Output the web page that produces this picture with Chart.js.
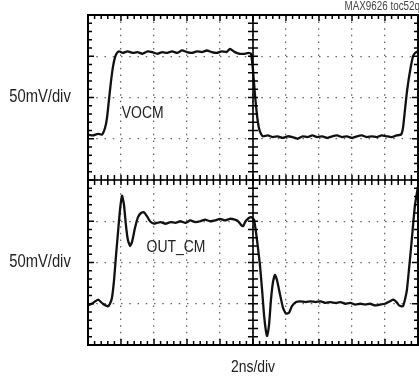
<!DOCTYPE html>
<html>
<head>
<meta charset="utf-8">
<script src="https://cdn.jsdelivr.net/npm/chart.js@4/dist/chart.umd.min.js"></script>
<style>
    html, body { margin: 0; padding: 0; background: #fff; }
    #wrap { position: relative; width: 419px; height: 381px; }
</style>
</head>
<body>
<div id="wrap"><canvas id="scope" width="419" height="381"></canvas></div>
<script>
// time axis: 2ns/div, 10 divisions
const timeRange = [0, 20];
const timeStep = 2;
// vertical: 50mV/div, 8 divisions
const mvRange = [-200, 200];
const mvStep = 50;

// VOCM trace (top half)
const vocmNs = [0, 0.3, 0.6, 0.85, 1.03, 1.15, 1.27, 1.39, 1.52, 1.64, 1.76, 1.88,
    2.1, 2.4, 2.7, 3.0, 3.3, 3.6, 3.9, 4.2, 4.5, 4.8, 5.1, 5.4, 5.7, 6.0, 6.3, 6.6, 6.9,
    7.2, 7.5, 7.8, 8.1, 8.4, 8.6, 8.9, 9.2, 9.5, 9.75, 9.88,
    10.0, 10.12, 10.24, 10.36, 10.48, 10.6,
    10.9, 11.2, 11.5, 11.8, 12.1, 12.4, 12.7, 13.0, 13.3, 13.6, 13.9, 14.2, 14.5, 14.8,
    15.1, 15.4, 15.7, 16.0, 16.3, 16.6, 16.9, 17.2, 17.5, 17.8, 18.1, 18.4, 18.7,
    18.97, 19.09, 19.21, 19.33, 19.45, 19.58, 19.7, 19.82, 20];
const vocmMv = [55, 54, 56, 55, 63, 75, 97, 119, 138, 149, 154, 156,
    154, 156, 154, 155, 153, 156, 155, 153, 155, 154, 156, 154, 157, 155, 154, 156, 155,
    157, 155, 154, 156, 155, 159, 155, 153, 153, 154, 153,
    133, 103, 79, 63, 56, 53,
    54, 52, 53, 51, 53, 52, 50, 53, 52, 54, 52, 53, 51, 53,
    54, 52, 53, 51, 53, 54, 52, 53, 52, 54, 53, 52, 54,
    55, 63, 85, 107, 124, 139, 150, 154, 156];

// OUT_CM trace (bottom half)
const outNs = [0, 0.3, 0.61, 0.9, 1.21, 1.33, 1.45, 1.58, 1.7, 1.82, 1.94, 2.06, 2.18,
    2.3, 2.42, 2.55, 2.67, 2.85, 3.03, 3.21, 3.39, 3.58, 3.76, 4.0, 4.18,
    4.4, 4.7, 5.0, 5.3, 5.6, 5.9, 6.2, 6.5, 6.8, 7.1, 7.4, 7.7, 8.0, 8.3, 8.6, 8.9,
    9.1, 9.3, 9.4, 9.55, 9.75, 9.9, 10.0,
    10.06, 10.18, 10.3, 10.42, 10.55, 10.67, 10.79, 10.85, 10.97, 11.09, 11.21, 11.33,
    11.45, 11.64, 11.82, 12.0, 12.18, 12.36, 12.61, 12.85,
    13.2, 13.5, 13.8, 14.1, 14.4, 14.7, 15.0, 15.3, 15.6, 15.9, 16.2, 16.5, 16.8, 17.1,
    17.4, 17.7, 18.0, 18.3, 18.5, 18.7, 18.85, 19.09,
    19.21, 19.33, 19.45, 19.58, 19.7, 19.82, 20];
const outMv = [-152, -149, -145, -150, -153, -150, -143, -121, -91, -63, -36, -19, -30,
    -55, -73, -80, -75, -58, -45, -40, -39, -44, -50, -53, -52,
    -51, -53, -51, -52, -50, -52, -49, -51, -50, -48, -50, -49, -47, -49, -47, -48,
    -50, -55, -56, -50, -46, -45, -47,
    -48, -63, -82, -103, -133, -164, -184, -189, -176, -145, -124, -115,
    -121, -139, -155, -162, -161, -153, -148, -147,
    -148, -147, -148, -147, -149, -148, -149, -148, -150, -149, -151, -150, -151, -150,
    -152, -151, -150, -147, -145, -148, -152, -153,
    -145, -133, -109, -82, -55, -30, -8];

// labels placed in data coordinates [ns, mV]
const traceLabels = [
    { text: 'VOCM', ns: 2.05, mv: 81 },
    { text: 'OUT_CM', ns: 3.55, mv: -82 }
];
const scaleLabels = ['50mV/div', '50mV/div'];
const timeLabel = '2ns/div';
const partLabel = 'MAX9626 toc52q';

const FONT = '"Liberation Sans", Arial, sans-serif';
const NARROW = 0.82;   // condensed look of the original lettering

function toPoints(xs, ys) {
    return xs.map((x, i) => ({ x: x, y: ys[i] }));
}

// fillText squeezed horizontally around its anchor
function narrowText(ctx, text, x, y, align) {
    ctx.save();
    ctx.translate(x, y);
    ctx.scale(NARROW, 1);
    ctx.textAlign = align;
    ctx.fillText(text, 0, 0);
    ctx.restore();
}

/**
 * Scope graticule: centre cross, minor ticks, frame and labels
 */
const scopePlugin = {
    id: 'scope',
    afterDraw(chart) {
        const { ctx, chartArea: a, scales: { x, y } } = chart;
        const cx = x.getPixelForValue(10);
        const cy = y.getPixelForValue(0);
        ctx.save();
        ctx.fillStyle = '#000';
        // centre cross
        ctx.fillRect(a.left, cy - 0.8, a.right - a.left, 1.6);
        ctx.fillRect(cx - 0.8, a.top, 1.6, a.bottom - a.top);

        // ticks every 1/5 division along the time direction
        for (let i = 0; i <= 50; i++) {
            const px = x.getPixelForValue(i * 0.4);
            const h = i % 5 === 0 ? 6 : 4;
            ctx.fillRect(px - 0.75, cy - 5, 1.5, 10);
            ctx.fillRect(px - 0.75, a.top, 1.5, h);
            ctx.fillRect(px - 0.75, a.bottom - h, 1.5, h);
        }
        // and along the voltage direction
        for (let j = 0; j <= 40; j++) {
            const py = y.getPixelForValue(-200 + j * 10);
            const w = j % 5 === 0 ? 6 : 4;
            ctx.fillRect(cx - 5, py - 0.75, 10, 1.5);
            ctx.fillRect(a.left, py - 0.75, w, 1.5);
            ctx.fillRect(a.right - w, py - 0.75, w, 1.5);
        }

        ctx.setLineDash([]);
        ctx.strokeStyle = '#000';
        ctx.lineWidth = 2;
        ctx.strokeRect(a.left, a.top, a.right - a.left, a.bottom - a.top);

        ctx.fillStyle = '#222';
        ctx.textBaseline = 'middle';
        ctx.font = '17px ' + FONT;
        traceLabels.forEach(l => {
            narrowText(ctx, l.text, x.getPixelForValue(l.ns), y.getPixelForValue(l.mv), 'left');
        });
        // per-channel scale, centred on each half
        ctx.font = '18px ' + FONT;
        narrowText(ctx, scaleLabels[0], 40, y.getPixelForValue(100), 'center');
        narrowText(ctx, scaleLabels[1], 40, y.getPixelForValue(-100), 'center');
        ctx.font = '17px ' + FONT;
        narrowText(ctx, timeLabel, x.getPixelForValue(10), 367, 'center');

        ctx.font = '12px ' + FONT;
        ctx.fillStyle = '#444';
        narrowText(ctx, partLabel, 420, 7, 'right');
        ctx.restore();
    }
};

const traceStyle = {
    borderColor: '#111',
    borderWidth: 2.3,
    pointRadius: 0,
    tension: 0.15,
    fill: false
};

new Chart(document.getElementById('scope').getContext('2d'), {
    type: 'line',
    data: {
        datasets: [
            Object.assign({ label: 'VOCM', data: toPoints(vocmNs, vocmMv) }, traceStyle),
            Object.assign({ label: 'OUT_CM', data: toPoints(outNs, outMv) }, traceStyle)
        ]
    },
    options: {
        responsive: false,
        animation: false,
        events: [],
        layout: { padding: { left: 88, top: 15, right: 1, bottom: 36 } },
        plugins: {
            legend: { display: false },
            tooltip: { enabled: false }
        },
        scales: {
            x: {
                type: 'linear',
                min: timeRange[0],
                max: timeRange[1],
                ticks: { display: false, stepSize: timeStep },
                grid: { color: '#666', lineWidth: 1.3, drawTicks: false },
                border: { display: false, dash: [1.5, 5.1] }
            },
            y: {
                type: 'linear',
                min: mvRange[0],
                max: mvRange[1],
                ticks: { display: false, stepSize: mvStep },
                grid: { color: '#666', lineWidth: 1.3, drawTicks: false },
                border: { display: false, dash: [1.5, 6.75] }
            }
        }
    },
    plugins: [scopePlugin]
});
</script>
</body>
</html>
